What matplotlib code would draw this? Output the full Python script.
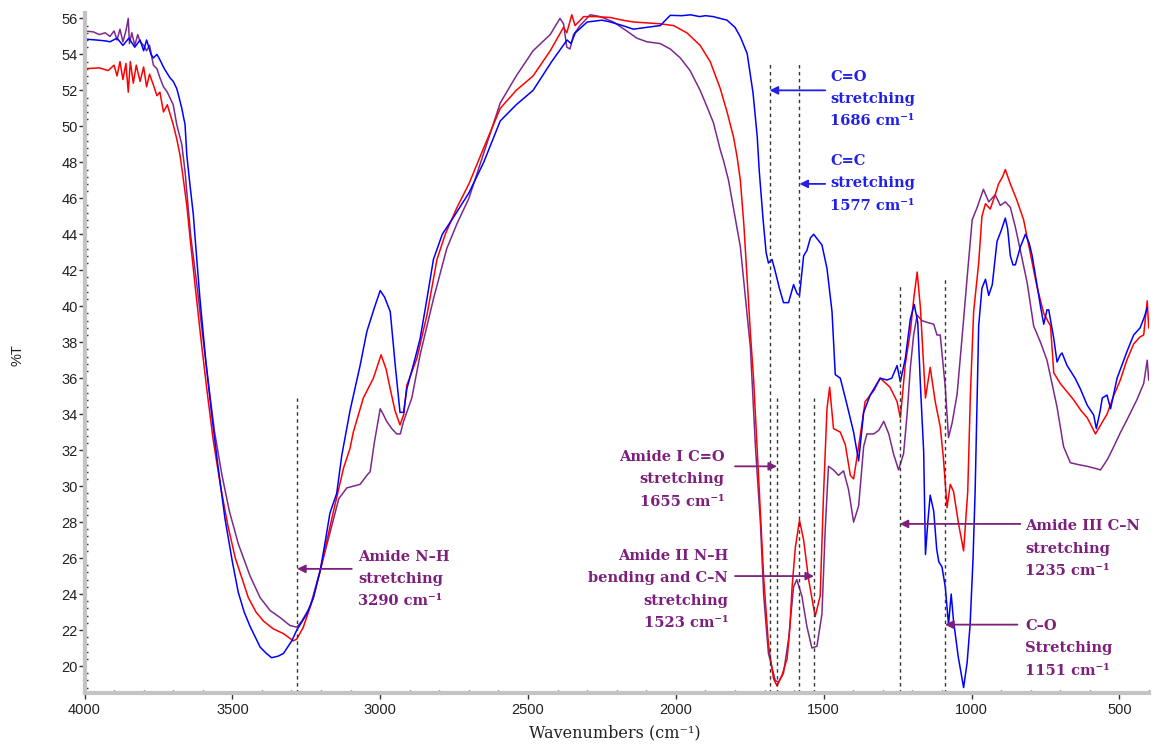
import matplotlib
matplotlib.use("Agg")
import matplotlib.pyplot as plt
from matplotlib.ticker import MultipleLocator

# ---- spectra (wavenumber, %T) ----
blue_wn = [4000, 3960, 3930, 3914, 3890, 3870, 3850, 3830, 3812, 3800, 3790, 3775, 3767, 3755, 3745,
           3730, 3711, 3700, 3688, 3680, 3671, 3660, 3654, 3643, 3632, 3626, 3610, 3590, 3570, 3550,
           3525, 3500, 3480, 3460, 3440, 3406, 3385, 3367, 3345, 3327, 3299, 3282, 3248, 3226, 3203,
           3185, 3170, 3147, 3130, 3102, 3068, 3045, 3020, 3000, 2985, 2966, 2949, 2933, 2921, 2910,
           2882, 2865, 2842, 2820, 2790, 2750, 2700, 2650, 2594, 2540, 2483, 2420, 2368, 2355, 2340,
           2300, 2250, 2222, 2180, 2144, 2100, 2053, 2035, 2019, 1980, 1950, 1920, 1900, 1874, 1850,
           1827, 1800, 1782, 1759, 1739, 1725, 1718, 1705, 1695, 1687, 1675, 1665, 1650, 1636, 1619,
           1602, 1590, 1582, 1568, 1557, 1545, 1534, 1520, 1506, 1489, 1472, 1461, 1444, 1421, 1399,
           1382, 1365, 1343, 1309, 1286, 1270, 1252, 1241, 1224, 1207, 1194, 1182, 1173, 1162, 1156,
           1148, 1140, 1128, 1118, 1111, 1100, 1089, 1078, 1069, 1061, 1045, 1027, 1015, 1005, 995,
           988, 976, 965, 953, 942, 930, 914, 900, 886, 878, 869, 860, 852, 835, 818,
           805, 795, 780, 767, 756, 745, 739, 722, 711, 700, 694, 677, 650, 632, 609,
           587, 578, 565, 558, 542, 530, 508, 490, 474, 452, 430, 418, 406]
blue_t = [54.85, 54.8, 54.75, 54.7, 54.9, 54.5, 54.9, 54.4, 54.8, 54.2, 54.8, 54.0, 53.8, 54.0, 53.7,
          53.2, 52.7, 52.5, 52.1, 51.6, 51.0, 50.1, 48.4, 46.7, 45.1, 43.8, 40.5, 37.0, 34.0, 31.3,
          28.2, 25.8, 24.1, 23.0, 22.2, 21.05, 20.7, 20.46, 20.55, 20.7, 21.4, 22.0, 22.9, 23.8, 25.3,
          27.0, 28.5, 29.6, 31.7, 34.2, 36.7, 38.6, 39.9, 40.87, 40.5, 39.7, 36.7, 34.1, 34.1, 35.4,
          37.1, 38.2, 40.4, 42.6, 44.0, 45.0, 46.3, 48.0, 50.3, 51.2, 52.0, 53.6, 54.8, 54.6, 55.2,
          55.8, 55.9, 55.8, 55.6, 55.4, 55.5, 55.6, 55.9, 56.17, 56.15, 56.2, 56.1, 56.15, 56.1, 56.0,
          55.9, 55.5, 54.97, 54.05, 51.84, 49.44, 47.5, 44.8, 43.0, 42.4, 42.6, 42.0, 41.0, 40.2, 40.2,
          41.2, 40.7, 40.6, 42.8, 43.1, 43.8, 44.0, 43.7, 43.4, 42.1, 39.7, 36.2, 36.0, 34.5, 33.0,
          31.4, 34.1, 35.06, 36.0, 35.9, 36.0, 36.7, 35.8, 37.1, 39.3, 40.1, 39.1, 35.6, 31.9, 26.2,
          28.0, 29.5, 28.6, 26.5, 25.8, 25.5, 24.4, 22.3, 24.0, 22.5, 20.5, 18.8, 20.2, 22.3, 26.0,
          29.7, 38.9, 41.0, 41.5, 40.6, 41.2, 43.6, 44.2, 44.9, 44.3, 42.8, 42.3, 42.3, 43.3, 44.0,
          43.5, 42.8, 41.3, 40.0, 39.0, 39.8, 39.8, 38.2, 36.9, 37.3, 37.4, 36.7, 36.0, 35.4, 34.5,
          33.95, 33.2, 34.2, 34.9, 35.06, 34.3, 36.0, 36.8, 37.5, 38.4, 38.8, 39.3, 39.9]

red_wn = [4000, 3950, 3920, 3900, 3890, 3880, 3870, 3860, 3852, 3845, 3835, 3825, 3812, 3800, 3790,
          3780, 3767, 3755, 3745, 3733, 3720, 3700, 3688, 3677, 3666, 3654, 3643, 3625, 3605, 3585,
          3565, 3540, 3515, 3490, 3446, 3420, 3395, 3361, 3327, 3294, 3282, 3260, 3226, 3203, 3180,
          3158, 3124, 3102, 3091, 3057, 3023, 2997, 2980, 2966, 2950, 2933, 2920, 2910, 2876, 2842,
          2808, 2780, 2740, 2700, 2650, 2594, 2540, 2483, 2425, 2380, 2369, 2352, 2341, 2312, 2270,
          2222, 2180, 2143, 2100, 2053, 2008, 1963, 1918, 1884, 1850, 1827, 1805, 1793, 1782, 1770,
          1759, 1748, 1737, 1720, 1703, 1687, 1670, 1658, 1641, 1624, 1615, 1607, 1596, 1582, 1568,
          1551, 1529, 1512, 1501, 1489, 1480, 1467, 1444, 1427, 1410, 1399, 1382, 1360, 1331, 1309,
          1276, 1252, 1241, 1224, 1207, 1195, 1184, 1173, 1156, 1140, 1123, 1106, 1095, 1083, 1072,
          1061, 1044, 1027, 1013, 1004, 993, 976, 965, 953, 937, 920, 909, 895, 886, 869,
          847, 824, 801, 779, 756, 733, 722, 700, 655, 630, 609, 581, 560, 542, 520,
          497, 475, 452, 430, 418, 406, 401]
red_t = [53.2, 53.25, 53.1, 53.4, 52.8, 53.6, 52.6, 53.5, 51.9, 53.6, 52.4, 53.4, 52.5, 53.3, 52.2,
         52.9, 52.3, 51.7, 51.9, 50.8, 51.2, 50.1, 49.3, 48.4, 47.1, 45.6, 43.8, 41.0, 38.0, 35.2,
         32.6, 30.0, 27.8, 26.0, 23.8, 23.0, 22.5, 22.06, 21.8, 21.4, 21.5, 22.16, 23.8, 25.3, 27.0,
         28.6, 31.0, 32.1, 33.0, 34.9, 36.0, 37.3, 36.5, 35.4, 34.2, 33.4, 34.0, 35.6, 37.1, 39.5,
         42.6, 44.0, 45.5, 46.8, 48.8, 51.0, 52.0, 52.8, 54.2, 55.5, 55.2, 56.2, 55.6, 56.1, 56.1,
         56.05, 55.9, 55.8, 55.75, 55.7, 55.6, 55.2, 54.5, 53.6, 52.1, 50.8, 49.4, 48.3, 47.0, 44.5,
         41.5, 38.5, 35.9, 30.4, 24.9, 21.2, 19.3, 18.9, 19.5, 20.4, 22.0, 24.4, 26.6, 28.1, 27.0,
         24.8, 22.75, 23.9, 29.4, 34.3, 35.5, 33.2, 33.0, 32.3, 30.6, 30.4, 32.2, 34.7, 35.3, 36.0,
         35.5, 34.7, 33.8, 36.8, 38.6, 40.5, 41.9, 39.9, 34.9, 36.6, 34.7, 33.3, 31.5, 28.8, 30.1,
         29.7, 27.9, 26.4, 29.7, 35.1, 39.7, 42.4, 45.0, 45.7, 45.4, 46.2, 46.8, 47.2, 47.6, 46.8,
         45.9, 44.8, 42.9, 41.1, 39.6, 38.9, 36.3, 35.7, 34.8, 34.2, 33.8, 32.9, 33.5, 34.0, 35.0,
         35.9, 37.0, 37.9, 38.3, 38.4, 40.3, 38.8]

purple_wn = [4000, 3970, 3950, 3930, 3914, 3900, 3890, 3880, 3870, 3860, 3852, 3848, 3840, 3830, 3820,
             3812, 3800, 3790, 3780, 3767, 3755, 3745, 3733, 3720, 3700, 3688, 3671, 3660, 3650, 3640,
             3620, 3600, 3580, 3560, 3535, 3510, 3480, 3440, 3406, 3372, 3339, 3305, 3282, 3265, 3237,
             3203, 3170, 3140, 3113, 3068, 3045, 3034, 3020, 3000, 2990, 2978, 2961, 2944, 2932, 2921,
             2893, 2865, 2820, 2775, 2740, 2700, 2650, 2594, 2540, 2483, 2425, 2392, 2380, 2369, 2358,
             2346, 2324, 2290, 2256, 2211, 2166, 2132, 2098, 2053, 2019, 1985, 1952, 1918, 1895, 1873,
             1850, 1839, 1822, 1782, 1748, 1731, 1714, 1703, 1687, 1664, 1653, 1636, 1619, 1602, 1591,
             1574, 1557, 1540, 1523, 1506, 1495, 1484, 1467, 1450, 1433, 1416, 1399, 1382, 1365, 1354,
             1331, 1314, 1297, 1280, 1264, 1247, 1230, 1218, 1207, 1196, 1184, 1168, 1150, 1128, 1117,
             1106, 1089, 1078, 1066, 1049, 1032, 1015, 998, 981, 960, 942, 920, 903, 886, 869,
             852, 835, 812, 790, 767, 745, 711, 689, 666, 640, 609, 585, 564, 540, 519,
             496, 474, 441, 418, 406, 401]
purple_t = [55.3, 55.25, 55.1, 55.2, 55.0, 55.3, 54.8, 55.4, 54.7, 55.3, 56.0, 54.6, 55.2, 54.5, 55.1,
            54.7, 54.5, 54.2, 54.5, 53.4, 53.2, 52.7, 52.2, 51.9, 51.2, 50.1, 49.0, 47.5, 45.6, 43.8,
            41.2, 38.3, 35.6, 33.0, 30.6, 28.6, 26.8, 25.0, 23.8, 23.08, 22.7, 22.25, 22.16, 22.5, 23.3,
            25.3, 27.4, 29.3, 29.9, 30.1, 30.6, 30.8, 32.4, 34.3, 34.0, 33.6, 33.2, 32.9, 32.9, 33.6,
            34.9, 37.3, 40.4, 43.2, 44.6, 46.0, 48.5, 51.3, 52.8, 54.2, 55.1, 56.0, 55.7, 54.4, 54.3,
            55.1, 55.6, 56.2, 56.1, 55.8, 55.3, 54.9, 54.7, 54.6, 54.3, 53.8, 53.1, 52.0, 51.1, 50.2,
            48.7, 48.1, 47.0, 43.3, 37.7, 32.2, 27.9, 23.9, 20.7, 19.2, 19.1, 19.6, 21.5, 24.4, 24.8,
            23.9, 22.2, 21.0, 21.1, 22.9, 27.6, 31.1, 30.9, 30.6, 30.85, 29.8, 28.0, 28.9, 32.2, 32.9,
            32.9, 33.1, 33.6, 32.9, 31.8, 30.9, 31.8, 34.0, 36.6, 38.4, 39.5, 39.2, 39.1, 39.0, 38.4,
            38.4, 35.5, 32.7, 33.5, 35.1, 38.3, 41.6, 44.8, 45.5, 46.5, 45.8, 46.2, 45.6, 45.8, 45.5,
            44.4, 43.1, 41.3, 38.9, 38.0, 37.0, 34.4, 32.2, 31.3, 31.2, 31.1, 31.0, 30.9, 31.5, 32.2,
            33.0, 33.7, 34.8, 35.7, 37.0, 35.9]

# ---- band assignments ----
line_pos = [3281, 1683, 1658, 1582, 1533, 1243, 1090]
line_top = [34.9, 53.6, 34.9, 53.6, 34.9, 41.1, 41.5]

labels = ["Amide N\u2013H\nstretching\n3290 cm\u207b\u00b9",
          "C=O\nstretching\n1686 cm\u207b\u00b9",
          "C=C\nstretching\n1577 cm\u207b\u00b9",
          "Amide I C=O\nstretching\n1655 cm\u207b\u00b9",
          "Amide II N\u2013H\nbending and C\u2013N\nstretching\n1523 cm\u207b\u00b9",
          "Amide III C\u2013N\nstretching\n1235 cm\u207b\u00b9",
          "C\u2013O\nStretching\n1151 cm\u207b\u00b9"]
arrow_head = [3281, 1683, 1582, 1658, 1533, 1243, 1090]
arrow_tail = [3096, 1495, 1495, 1800, 1800, 835, 845]
arrow_y = [25.4, 52.0, 46.8, 31.1, 25.0, 27.9, 22.3]
text_x = [3075, 1478, 1478, 1836, 1823, 818, 818]
text_y = [26.45, 53.15, 48.45, 32.0, 26.5, 28.15, 22.6]
text_ha = ["left", "left", "left", "right", "right", "left", "left"]

PURPLE_TXT = "#7d1f7d"
BLUE_TXT = "#2020e8"
text_col = [PURPLE_TXT, BLUE_TXT, BLUE_TXT, PURPLE_TXT, PURPLE_TXT, PURPLE_TXT, PURPLE_TXT]

fig = plt.figure(figsize=(11.58, 7.44), dpi=100)
ax = fig.add_axes([84.5 / 1158, 51 / 744, (1149 - 84.5) / 1158, (693 - 13) / 744])

ax.plot(purple_wn, purple_t, color="#7b2a8c", lw=1.1)
ax.plot(red_wn, red_t, color="#ff0000", lw=1.1)
ax.plot(blue_wn, blue_t, color="#0000ff", lw=1.1)

ax.set_xlim(4000, 400)
ax.set_ylim(18.5, 56.3)

for x, top in zip(line_pos, line_top):
    ax.plot([x, x], [18.5, top], color="#333333", lw=1.0, dashes=(2.5, 2.5))

for i in range(len(labels)):
    ax.annotate("", xy=(arrow_head[i], arrow_y[i]), xytext=(arrow_tail[i], arrow_y[i]),
                arrowprops=dict(arrowstyle="-|>", color=text_col[i], lw=1.3,
                                mutation_scale=12, shrinkA=0, shrinkB=0))
    ax.text(text_x[i], text_y[i], labels[i], ha=text_ha[i], va="top", multialignment=text_ha[i],
            color=text_col[i], fontsize=10.5, fontweight="bold", family="DejaVu Serif",
            linespacing=1.75)

# axes styling
for side in ["top", "right"]:
    ax.spines[side].set_visible(False)
for side in ["left", "bottom"]:
    ax.spines[side].set_color("#c4c4c4")
    ax.spines[side].set_linewidth(3)

ax.xaxis.set_major_locator(MultipleLocator(500))
ax.xaxis.set_minor_locator(MultipleLocator(100))
ax.yaxis.set_major_locator(MultipleLocator(2))
ax.yaxis.set_minor_locator(MultipleLocator(0.4))
ax.tick_params(axis="both", which="major", color="#333333", labelcolor="#222222",
               labelsize=10.5, length=4, width=1, direction="out")
ax.tick_params(axis="both", which="minor", color="#333333", length=2, width=1, direction="in")
ax.tick_params(axis="y", which="major", pad=1)
for lab in ax.get_xticklabels() + ax.get_yticklabels():
    lab.set_family("Liberation Sans")

fig.text(615 / 1158, 11 / 744, "Wavenumbers (cm\u207b\u00b9)", ha="center", va="center",
         fontsize=11.5, family="DejaVu Serif", color="#222222")
fig.text(18 / 1158, (744 - 355) / 744, "%T", rotation=90, ha="center", va="center",
         fontsize=10.5, family="Liberation Sans", color="#222222")

fig.savefig("out.png", dpi=100)
